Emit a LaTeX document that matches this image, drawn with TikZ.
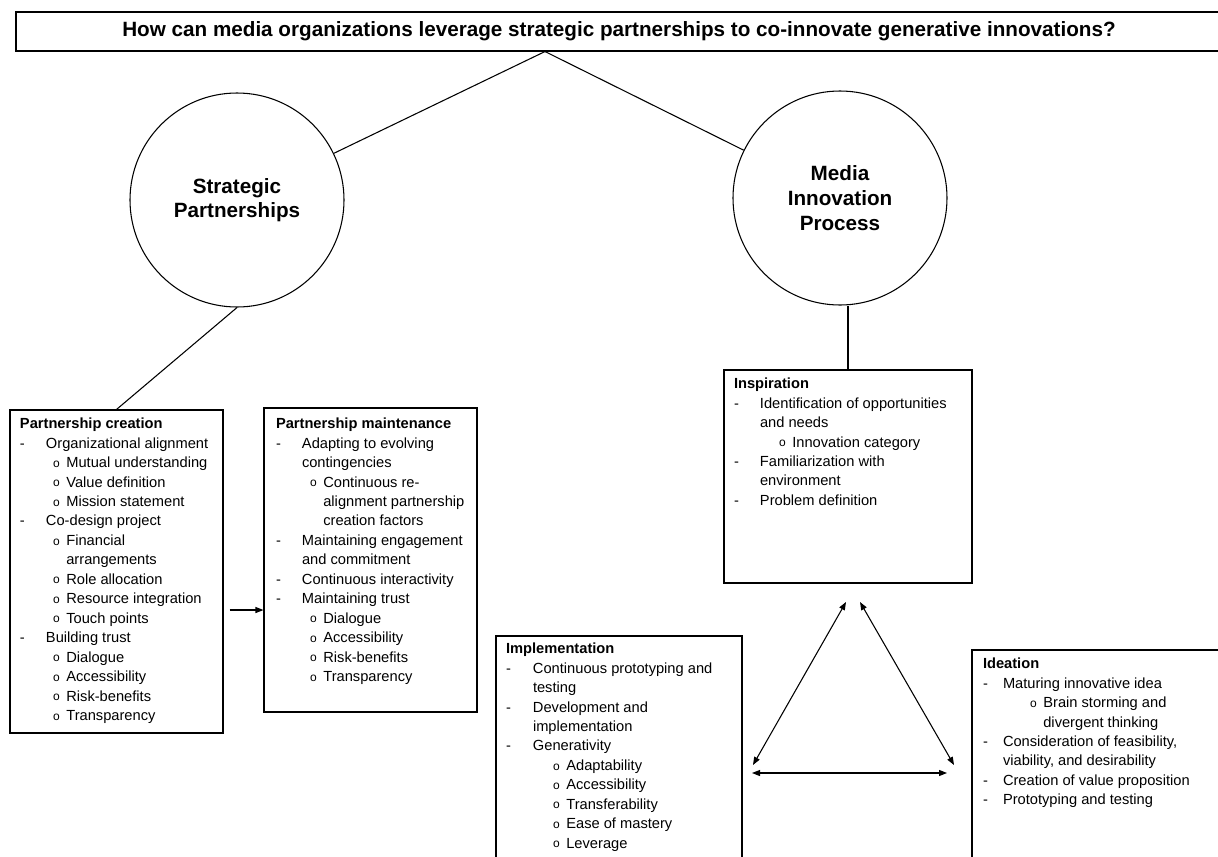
\documentclass[tikz,border=0pt]{standalone}
\usepackage{fontspec}
\setmainfont{Liberation Sans}
\usetikzlibrary{arrows.meta,fit,calc}

% list helpers for the boxes
\newcommand\ringmark{\raisebox{0.3pt}{\fontsize{9}{9}\selectfont o}}
\newcommand\dashitem[2][19.5pt]{\makebox[#1][l]{-}#2}
\newcommand\ringitem[2][24.75pt]{\hspace*{#1}\makebox[10pt][l]{\ringmark}#2}
\newcommand\contline[2][19.5pt]{\hspace*{#1}#2}

\tikzset{
  hub/.style={circle, draw, minimum size=160.5pt, align=center,
    font=\bfseries\fontsize{15.5}{18.5}\selectfont},
  frame/.style={draw, inner sep=0pt},
  boxtext/.style={anchor=north west, inner sep=0pt, align=left,
    font=\fontsize{11}{14.6}\selectfont},
  arr/.style={-{Triangle[length=6pt,width=4.5pt]}},
  dbl/.style={{Triangle[length=6pt,width=4.5pt]}-{Triangle[length=6pt,width=4.5pt]}}
}

\begin{document}
\begin{tikzpicture}[x=0.75pt, y=-0.75pt, line width=0.8pt]
  \useasboundingbox (0,0) rectangle (1218,857);
  \clip (0,0) rectangle (1218,857);

  % research question
  \node[frame, fit={(16,12) (1222,51)}] (q) {};
  \node[font=\bfseries\fontsize{15.5}{18}\selectfont] (q-t) at (q.center)
    {How can media organizations leverage strategic partnerships to co-innovate generative innovations?};
  \coordinate (apex) at (q.south -| 545,0);

  % the two themes
  \node[hub] (sp) at (237,200) {Strategic\\Partnerships};
  \node[hub] (mip) at (840,198) {Media\\Innovation\\Process};

  % partnership boxes
  \node[frame, fit={(10,410) (223,733)}] (cre) {};
  \node[boxtext] (cre-t) at ([shift={(10,8)}]cre.north west) {%
    \textbf{Partnership creation}\\
    \dashitem{Organizational alignment}\\
    \ringitem{Mutual understanding}\\
    \ringitem{Value definition}\\
    \ringitem{Mission statement}\\
    \dashitem{Co-design project}\\
    \ringitem{Financial}\\
    \contline[34.75pt]{arrangements}\\
    \ringitem{Role allocation}\\
    \ringitem{Resource integration}\\
    \ringitem{Touch points}\\
    \dashitem{Building trust}\\
    \ringitem{Dialogue}\\
    \ringitem{Accessibility}\\
    \ringitem{Risk-benefits}\\
    \ringitem{Transparency}};

  \node[frame, fit={(264,408) (477,712)}] (mnt) {};
  \node[boxtext] (mnt-t) at ([shift={(12,10)}]mnt.north west) {%
    \textbf{Partnership maintenance}\\
    \dashitem{Adapting to evolving}\\
    \contline{contingencies}\\
    \ringitem[25.5pt]{Continuous re-}\\
    \contline[35.5pt]{alignment partnership}\\
    \contline[35.5pt]{creation factors}\\
    \dashitem{Maintaining engagement}\\
    \contline{and commitment}\\
    \dashitem{Continuous interactivity}\\
    \dashitem{Maintaining trust}\\
    \ringitem[25.5pt]{Dialogue}\\
    \ringitem[25.5pt]{Accessibility}\\
    \ringitem[25.5pt]{Risk-benefits}\\
    \ringitem[25.5pt]{Transparency}};

  % innovation process boxes
  \node[frame, fit={(724,370) (972,583)}] (ins) {};
  \node[boxtext] (ins-t) at ([shift={(10,8)}]ins.north west) {%
    \textbf{Inspiration}\\
    \dashitem{Identification of opportunities}\\
    \contline{and needs}\\
    \ringitem[33.75pt]{Innovation category}\\
    \dashitem{Familiarization with}\\
    \contline{environment}\\
    \dashitem{Problem definition}};

  \node[frame, fit={(496,636) (742,880)}] (imp) {};
  \node[boxtext] (imp-t) at ([shift={(10,7)}]imp.north west) {%
    \textbf{Implementation}\\
    \dashitem[20.25pt]{Continuous prototyping and}\\
    \contline[20.25pt]{testing}\\
    \dashitem[20.25pt]{Development and}\\
    \contline[20.25pt]{implementation}\\
    \dashitem[20.25pt]{Generativity}\\
    \ringitem[35.25pt]{Adaptability}\\
    \ringitem[35.25pt]{Accessibility}\\
    \ringitem[35.25pt]{Transferability}\\
    \ringitem[35.25pt]{Ease of mastery}\\
    \ringitem[35.25pt]{Leverage}};

  \node[frame, fit={(972,650) (1230,880)}] (ide) {};
  \node[boxtext] (ide-t) at ([shift={(11,8)}]ide.north west) {%
    \textbf{Ideation}\\
    \dashitem[15pt]{Maturing innovative idea}\\
    \ringitem[35.25pt]{Brain storming and}\\
    \contline[45.25pt]{divergent thinking}\\
    \dashitem[15pt]{Consideration of feasibility,}\\
    \contline[15pt]{viability, and desirability}\\
    \dashitem[15pt]{Creation of value proposition}\\
    \dashitem[15pt]{Prototyping and testing}};

  % links
  \draw (apex) -- (sp);
  \draw (apex) -- (mip);
  \draw (sp.south) -- (cre.north);
  \draw (ins.north |- mip.south) -- (ins.north);
  \draw[arr] ($(cre.east |- 0,610)+(6,0)$) -- (mnt.west |- 0,610);

  % cycle between the three phases
  \coordinate (ins-l) at (846,602);
  \coordinate (ins-r) at (860,602);
  \coordinate (imp-a) at (753,765);
  \coordinate (imp-b) at (752,773);
  \coordinate (ide-a) at (954,765);
  \coordinate (ide-b) at (947,773);
  \draw[dbl] (ins-l) -- (imp-a);
  \draw[dbl] (ins-r) -- (ide-a);
  \draw[dbl] (imp-b) -- (ide-b);
\end{tikzpicture}
\end{document}
